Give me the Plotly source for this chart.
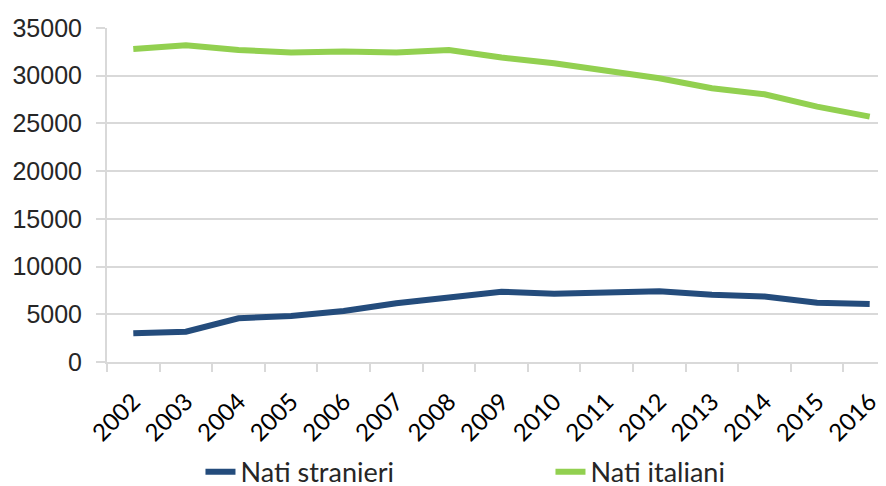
import plotly.graph_objects as go

years = [str(y) for y in range(2002, 2017)]
nati_stranieri = [3000, 3180, 4580, 4820, 5350, 6150, 6750, 7370, 7140, 7310, 7410, 7050, 6860, 6220, 6080]
nati_italiani = [32800, 33200, 32700, 32430, 32530, 32430, 32700, 31900, 31300, 30500, 29730, 28680, 28050, 26760, 25710]

fig = go.Figure()
fig.add_trace(go.Scatter(x=years, y=nati_stranieri, mode="lines", name="Nati stranieri",
                         line=dict(color="#244C7C", width=6)))
fig.add_trace(go.Scatter(x=years, y=nati_italiani, mode="lines", name="Nati italiani",
                         line=dict(color="#92D050", width=6)))

fig.update_layout(
    width=878, height=478,
    margin=dict(l=99, r=0, t=20, b=124, autoexpand=False),
    paper_bgcolor="white", plot_bgcolor="white",
    font=dict(family="Lato", size=20, color="#000000"),
    showlegend=True,
    legend=dict(orientation="h", x=0.12, xanchor="left", y=-0.33, yanchor="middle",
                font=dict(size=27, family="Lato", color="#262626"),
                entrywidth=305, entrywidthmode="pixels"),
    xaxis=dict(type="category", range=[-0.5, 14.31], tickson="boundaries",
               automargin=False, ticklabelstandoff=14,
               ticks="outside", ticklen=8, tickcolor="#d9d9d9", tickwidth=2,
               showline=True, linecolor="#d9d9d9", linewidth=2,
               showgrid=False, tickangle=-45,
               tickfont=dict(size=24, family="Lato", color="#000000")),
    yaxis=dict(range=[0, 35000], dtick=5000, tickformat="d", automargin=False,
               ticklabelstandoff=9,
               showgrid=True, gridcolor="#d9d9d9", gridwidth=2,
               showline=True, linecolor="#d9d9d9", linewidth=2,
               ticks="outside", ticklen=9, tickcolor="#d9d9d9", tickwidth=2,
               zeroline=True, zerolinecolor="#d9d9d9", zerolinewidth=2,
               tickfont=dict(size=25, family="Liberation Sans", color="#262626")),
)

fig.write_html("out.html")
